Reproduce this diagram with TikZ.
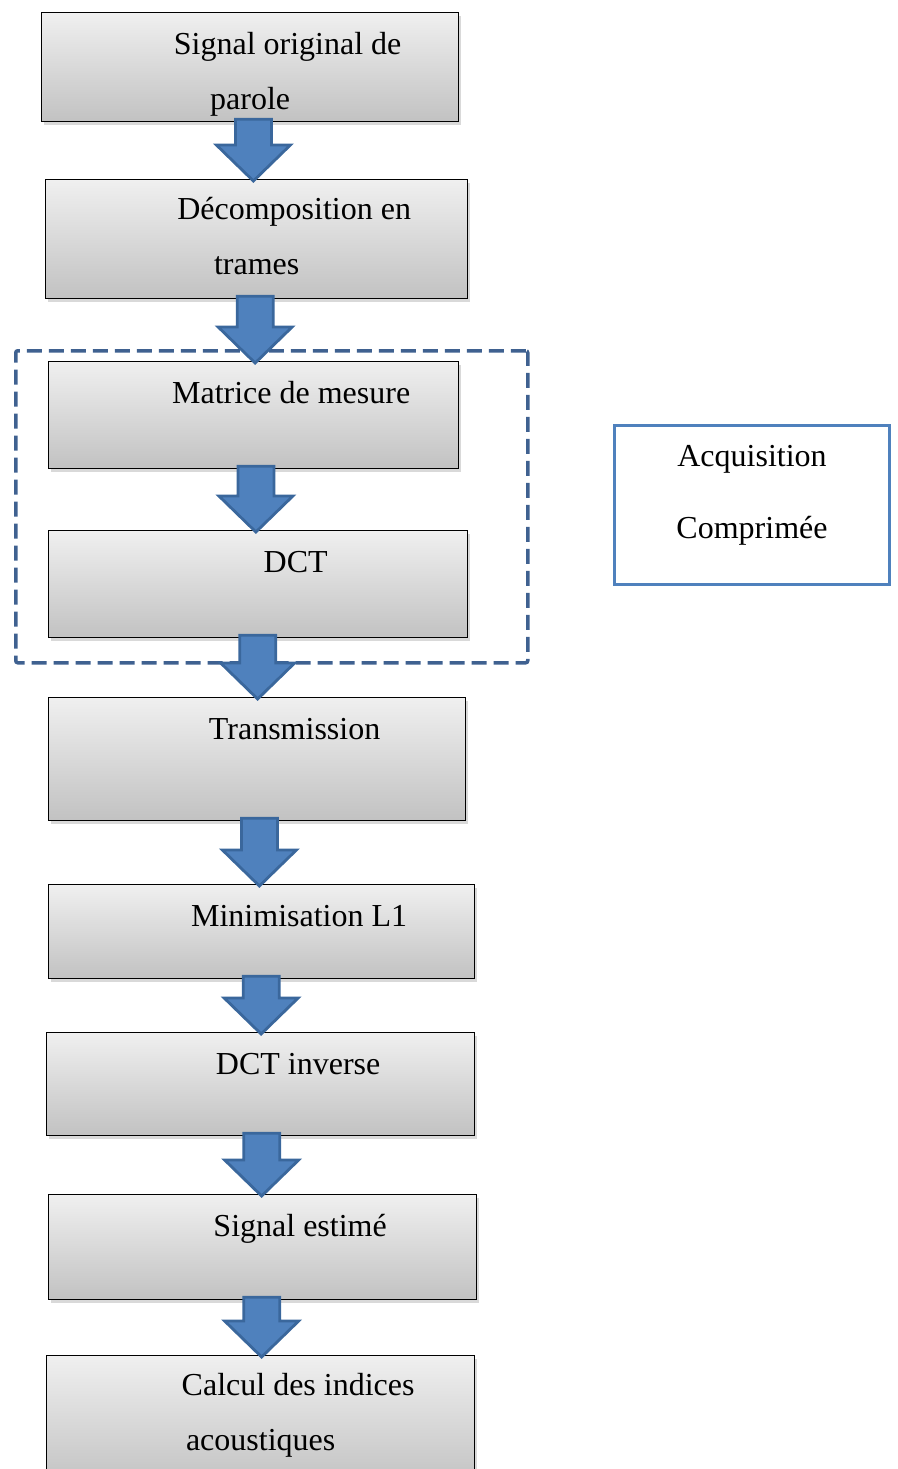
\documentclass[tikz,border=0pt]{standalone}
\usepackage{fontspec}
\setmainfont{Liberation Serif}
\usepackage{tikz}
\usetikzlibrary{
	positioning,
	calc,
	shadows
}

\definecolor{flowfill}{HTML}{4F81BD}
\definecolor{flowedge}{HTML}{3A679C}
\definecolor{groupblue}{HTML}{3F6190}

% indent of the first line, as in the word processor
\newcommand{\ind}{\hspace*{75pt}}
% fat block arrow between two boxes
\newcommand{\flow}[2]{%
	\filldraw[flowarrow] let \p1=($(#1.south)!.5!(#2.north)$), \p2=(#1.south), \p3=(#2.north) in
		(\x1-18pt,\y2+3pt) -- (\x1+18pt,\y2+3pt) -- (\x1+18pt,\y3+34pt) -- (\x1+37pt,\y3+34pt)
		-- (\x1,\y3-2pt) -- (\x1-37pt,\y3+34pt) -- (\x1-18pt,\y3+34pt) -- cycle;}

\begin{document}
\begin{tikzpicture}[x=1pt,y=-1pt,
		stage/.style={draw=black, line width=1.3pt, anchor=north west, inner sep=0pt,
			top color=gray!12, bottom color=gray!48,
			drop shadow={opacity=0.3, shadow xshift=2pt, shadow yshift=-3pt}},
		steptext/.style={font=\fontsize{32}{55}\selectfont, align=center, anchor=base, inner sep=0pt},
		flowarrow/.style={fill=flowfill, draw=flowedge, line width=2.8pt, line join=miter},
		group/.style={draw=groupblue, line width=3.5pt, dash pattern=on 15pt off 7pt,
			rounded corners=2pt, anchor=north west, inner sep=0pt},
		sidebox/.style={draw=flowfill, line width=3pt, fill=white, anchor=north west, inner sep=0pt}
	]
	\useasboundingbox (0,0) rectangle (897,1469);
	\clip (0,0) rectangle (897,1469);

	% compressed acquisition part
	\node[group, minimum width=512pt, minimum height=312pt] (grp) at (14,349) {};

	\node[stage, minimum width=417pt, minimum height=109pt] (s1) at (41,12)   {};
	\node[stage, minimum width=422pt, minimum height=119pt] (s2) at (45,179)  {};
	\node[stage, minimum width=410pt, minimum height=107pt] (s3) at (48,361)  {};
	\node[stage, minimum width=419pt, minimum height=107pt] (s4) at (48,530)  {};
	\node[stage, minimum width=417pt, minimum height=123pt] (s5) at (48,697)  {};
	\node[stage, minimum width=426pt, minimum height=94pt]  (s6) at (48,884)  {};
	\node[stage, minimum width=428pt, minimum height=103pt] (s7) at (46,1032) {};
	\node[stage, minimum width=428pt, minimum height=105pt] (s8) at (48,1194) {};
	\node[stage, minimum width=428pt, minimum height=130pt] (s9) at (46,1355) {};

	% base of a two-line text is its second line
	\node[steptext] (t1) at ($(s1.north)+(0,98)$) {\ind Signal original de\\parole};
	\node[steptext] (t2) at ($(s2.north)+(0,95)$) {\ind Décomposition en\\trames};
	\node[steptext] (t3) at ($(s3.north)+(0,42)$) {\ind Matrice de mesure};
	\node[steptext] (t4) at ($(s4.north)+(0,42)$) {\ind DCT};
	\node[steptext] (t5) at ($(s5.north)+(0,42)$) {\ind Transmission};
	\node[steptext] (t6) at ($(s6.north)+(0,42)$) {\ind Minimisation L1};
	\node[steptext] (t7) at ($(s7.north)+(0,42)$) {\ind DCT inverse};
	\node[steptext] (t8) at ($(s8.north)+(0,42)$) {\ind Signal estimé};
	\node[steptext] (t9) at ($(s9.north)+(0,95)$) {\ind Calcul des indices\\acoustiques};

	\node[sidebox, minimum width=275pt, minimum height=159pt] (acq) at (613,424) {};
	\node[steptext, font=\fontsize{32}{72}\selectfont] (tacq) at ($(acq.north)+(0,114)$) {Acquisition\\Comprimée};

	\foreach \a/\b in {s1/s2,s2/s3,s3/s4,s4/s5,s5/s6,s6/s7,s7/s8,s8/s9}
		\flow{\a}{\b};
\end{tikzpicture}
\end{document}
